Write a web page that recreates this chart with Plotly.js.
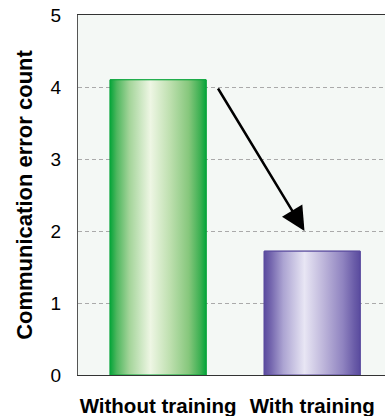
<!DOCTYPE html>
<html>
<head>
<meta charset="utf-8">
<script src="https://cdn.plot.ly/plotly-3.0.1.min.js"></script>
<style>
html,body{margin:0;padding:0;overflow:hidden;background:#fff;}
#chart{width:410px;height:416px;}
</style>
</head>
<body>
<div id="chart"></div>
<script>
var categories = ["Without training", "With training"];
var errorCounts = [4.1, 1.72];
var yTickValues = [0, 1, 2, 3, 4, 5];
var arrowFrom = [0.383, 4.0];
var arrowTo = [0.95, 2.0];

var barWidth = 0.623;
var edgeColors = ["#0aa63c", "#5a4b9e"];
var scales = [
  [[0,"#07a53a"],[0.07,"#4fb75f"],[0.2,"#a3d499"],[0.42,"#eef6e4"],[0.62,"#bfe0b0"],[0.82,"#86c77c"],[0.94,"#3cb052"],[1,"#07a53a"]],
  [[0,"#5a4b9e"],[0.07,"#7466ae"],[0.2,"#aca4d2"],[0.42,"#e8e6f4"],[0.62,"#bdb5da"],[0.82,"#8f83c0"],[0.94,"#6a5ca8"],[1,"#5a4b9e"]]
];

var xIdx = categories.map(function(c, i){ return i; });

var traces = [{
  type: "bar",
  x: xIdx,
  y: errorCounts,
  width: barWidth,
  marker: {color: edgeColors, line: {color: edgeColors, width: 1}},
  hoverinfo: "skip",
  showlegend: false
}];

xIdx.forEach(function(i){
  var l = i - barWidth/2, r = i + barWidth/2, v = errorCounts[i];
  traces.push({
    type: "scatter",
    mode: "lines",
    x: [l, r, r, l, l],
    y: [0, 0, v, v, 0],
    fill: "toself",
    fillgradient: {type: "horizontal", colorscale: scales[i]},
    line: {color: edgeColors[i], width: 1},
    hoverinfo: "skip",
    showlegend: false
  });
});

var layout = {
  width: 410,
  height: 416,
  margin: {l: 78, r: 10, t: 15, b: 41},
  paper_bgcolor: "#ffffff",
  plot_bgcolor: "#f4f8f5",
  font: {family: "Liberation Sans, Arial, sans-serif", color: "#000"},
  showlegend: false,
  xaxis: {
    range: [-0.52, 1.57],
    tickvals: xIdx,
    ticktext: categories,
    showgrid: false,
    zeroline: false,
    showline: true,
    mirror: true,
    linecolor: "#333",
    linewidth: 1,
    ticks: "",
    ticklabelstandoff: 12,
    tickfont: {size: 20.5, family: "Liberation Sans, Arial, sans-serif", weight: "bold"}
  },
  yaxis: {
    range: [0, 5],
    tickvals: yTickValues,
    showgrid: true,
    gridcolor: "#aaaaaa",
    griddash: "4px,3px",
    gridwidth: 1,
    zeroline: false,
    showline: true,
    linecolor: "#555",
    linewidth: 1,
    ticks: "",
    ticklabelstandoff: 12,
    tickfont: {size: 19},
    title: {text: "<b>Communication error count</b>", font: {size: 22}, standoff: 11}
  },
  annotations: [{
    x: arrowTo[0], y: arrowTo[1], xref: "x", yref: "y",
    ax: arrowFrom[0], ay: arrowFrom[1], axref: "x", ayref: "y",
    text: "", showarrow: true,
    arrowhead: 2, arrowsize: 1.9, arrowwidth: 2.5, arrowcolor: "#000"
  }]
};

Plotly.newPlot("chart", traces, layout, {displayModeBar: false, staticPlot: true});
</script>
</body>
</html>
